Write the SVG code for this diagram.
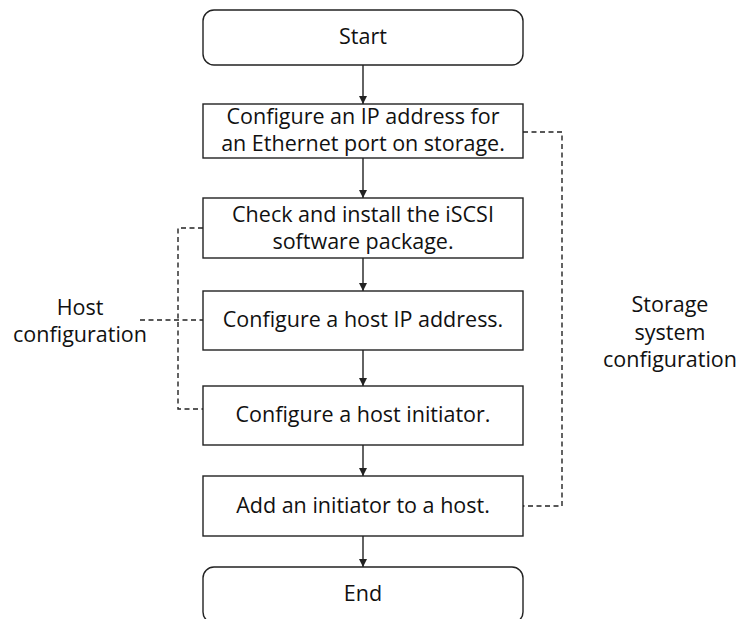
<svg xmlns="http://www.w3.org/2000/svg" width="738" height="619" viewBox="0 0 738 619">
<style>
.box{fill:#fff;stroke:#222;stroke-width:1.4}
.t{font-family:"Open Sans","Noto Sans",sans-serif;font-size:21.5px;fill:#111;text-anchor:middle}
.c{stroke:#222;stroke-width:1.4;fill:none}
.d{stroke:#222;stroke-width:1.4;fill:none;stroke-dasharray:5 3.5}
</style>
<defs>
<marker id="ah" markerWidth="10" markerHeight="10" refX="8" refY="4" orient="auto" markerUnits="userSpaceOnUse">
<path d="M0,0 L8,4 L0,8 Z" fill="#222"/>
</marker>
</defs>
<rect width="738" height="619" fill="#fff"/>
<g id="connectors">
<line class="c" x1="363" y1="65" x2="363" y2="104" marker-end="url(#ah)"/>
<line class="c" x1="363" y1="158" x2="363" y2="198" marker-end="url(#ah)"/>
<line class="c" x1="363" y1="258" x2="363" y2="291" marker-end="url(#ah)"/>
<line class="c" x1="363" y1="350" x2="363" y2="386" marker-end="url(#ah)"/>
<line class="c" x1="363" y1="445" x2="363" y2="476" marker-end="url(#ah)"/>
<line class="c" x1="363" y1="536" x2="363" y2="567" marker-end="url(#ah)"/>
<polyline class="d" points="523,132 562,132 562,506 523,506"/>
<polyline class="d" points="203,228 178,228 178,409 203,409"/>
<line class="d" x1="140" y1="320" x2="203" y2="320"/>
</g>
<g id="start">
<rect class="box" x="203" y="10" width="320" height="55" rx="11"/>
<text class="t" x="363" y="44">Start</text>
</g>
<g id="step1">
<rect class="box" x="203" y="104" width="320" height="54"/>
<text class="t" x="363" y="124">Configure an IP address for</text>
<text class="t" x="363" y="151">an Ethernet port on storage.</text>
</g>
<g id="step2">
<rect class="box" x="203" y="198" width="320" height="60"/>
<text class="t" x="363" y="222">Check and install the iSCSI</text>
<text class="t" x="363" y="249">software package.</text>
</g>
<g id="step3">
<rect class="box" x="203" y="291" width="320" height="59"/>
<text class="t" x="363" y="327">Configure a host IP address.</text>
</g>
<g id="step4">
<rect class="box" x="203" y="386" width="320" height="59"/>
<text class="t" x="363" y="422">Configure a host initiator.</text>
</g>
<g id="step5">
<rect class="box" x="203" y="476" width="320" height="60"/>
<text class="t" x="363" y="513">Add an initiator to a host.</text>
</g>
<g id="end">
<rect class="box" x="203" y="567" width="320" height="56" rx="11"/>
<text class="t" x="363" y="601">End</text>
</g>
<g id="host-label">
<text class="t" x="80" y="315">Host</text>
<text class="t" x="80" y="342">configuration</text>
</g>
<g id="storage-label">
<text class="t" x="670" y="312">Storage</text>
<text class="t" x="670" y="340">system</text>
<text class="t" x="670" y="367">configuration</text>
</g>
</svg>
